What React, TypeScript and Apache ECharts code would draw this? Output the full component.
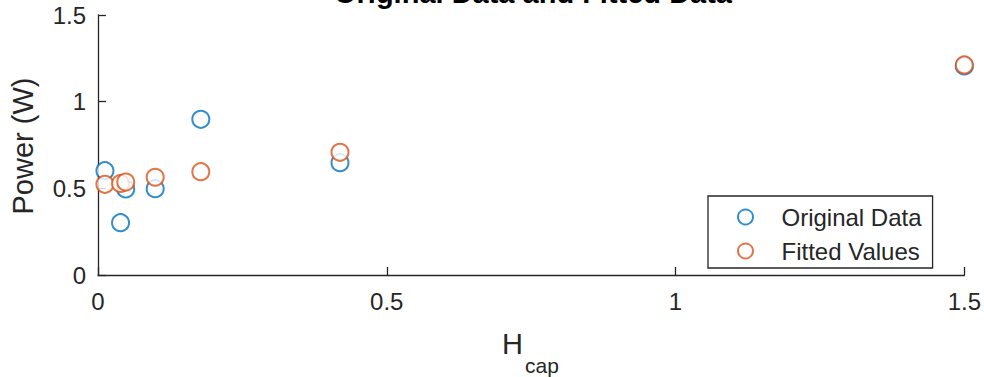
import React, { useEffect, useRef } from "react";
import * as echarts from "echarts";

const xValues = [0.012, 0.039, 0.048, 0.099, 0.178, 0.419, 1.5];
const originalData = [0.602, 0.302, 0.496, 0.498, 0.898, 0.648, 1.206];
const fittedValues = [0.523, 0.528, 0.536, 0.564, 0.596, 0.708, 1.212];
const seriesNames = ["Original Data", "Fitted Values"];
const titleText = "Original Data and Fitted Data";
const yLabel = "Power (W)";

const FONT = "'Liberation Sans', Arial, Helvetica, sans-serif";
const AX = "#262626";

export default function App() {
  const ref = useRef<HTMLDivElement>(null);
  useEffect(() => {
    if (!ref.current) return;
    const chart = echarts.init(ref.current, undefined, { renderer: "svg" });
    const pts = (ys: number[]) => xValues.map((x, i) => [x, ys[i]]);
    const axisCommon = {
      type: "value" as const,
      min: 0,
      max: 1.5,
      interval: 0.5,
      axisLine: { show: true, lineStyle: { color: AX, width: 1.3 } },
      axisTick: { show: true, inside: true, length: 8, lineStyle: { color: AX, width: 1.3 } },
      splitLine: { show: false },
      axisLabel: { color: AX, fontSize: 24, fontFamily: FONT },
    };
    chart.setOption({
      animation: false,
      backgroundColor: "#ffffff",
      grid: { left: 98, right: 19, top: 15, bottom: 102, containLabel: false },
      xAxis: { ...axisCommon, axisLabel: { ...axisCommon.axisLabel, margin: 14 } },
      yAxis: { ...axisCommon, axisLabel: { ...axisCommon.axisLabel, margin: 12 } },
      legend: {
        orient: "vertical",
        left: 708,
        top: 196,
        padding: [9, 11, 5, 29],
        itemWidth: 62,
        itemHeight: 15,
        itemGap: 10,
        borderColor: AX,
        borderWidth: 1.3,
        backgroundColor: "#ffffff",
        textStyle: { color: AX, fontSize: 24, fontFamily: FONT, lineHeight: 24 },
        itemStyle: { borderWidth: 1.6 },
        data: seriesNames,
      },
      series: [
        {
          name: seriesNames[0],
          type: "scatter",
          symbol: "emptyCircle",
          symbolSize: 17,
          clip: false,
          itemStyle: { color: "#0072BD", borderColor: "#0072BD", borderWidth: 1.6 },
          data: pts(originalData),
        },
        {
          name: seriesNames[1],
          type: "scatter",
          symbol: "emptyCircle",
          symbolSize: 17,
          clip: false,
          itemStyle: { color: "#D95319", borderColor: "#D95319", borderWidth: 1.6 },
          data: pts(fittedValues),
        },
      ],
      graphic: [
        {
          type: "text",
          x: 533,
          y: -7,
          style: {
            text: titleText,
            fill: "#000000",
            font: `bold 29px ${FONT}`,
            textAlign: "center",
            textVerticalAlign: "middle",
          },
        },
        {
          type: "text",
          x: 22.5,
          y: 146,
          rotation: Math.PI / 2,
          style: {
            text: yLabel,
            fill: AX,
            font: `29px ${FONT}`,
            textAlign: "center",
            textVerticalAlign: "middle",
          },
        },
        {
          type: "text",
          x: 502,
          y: 344,
          style: {
            text: "H",
            fill: AX,
            font: `29px ${FONT}`,
            textAlign: "left",
            textVerticalAlign: "middle",
          },
        },
        {
          type: "text",
          x: 525,
          y: 365,
          style: {
            text: "cap",
            fill: AX,
            font: `21px ${FONT}`,
            textAlign: "left",
            textVerticalAlign: "middle",
          },
        },
      ],
    });
    return () => chart.dispose();
  }, []);
  return (
    <div
      ref={ref}
      style={{ position: "absolute", left: 0, top: 0, width: 984, height: 377, background: "#fff" }}
    />
  );
}
